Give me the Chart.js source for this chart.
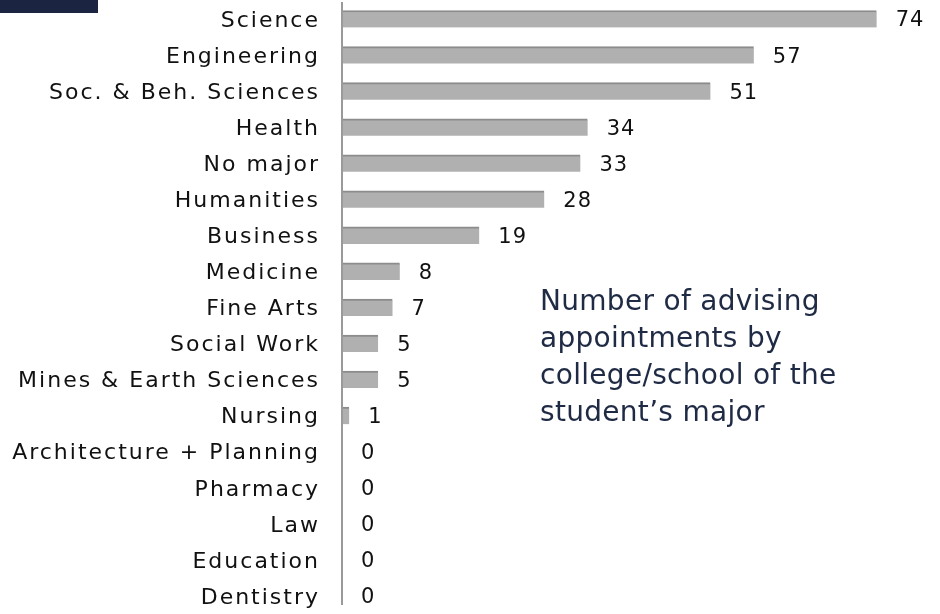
<!DOCTYPE html>
<html>
<head>
<meta charset="utf-8">
<script src="https://cdn.jsdelivr.net/npm/chart.js@4/dist/chart.umd.min.js"></script>
<style>
  html, body { margin: 0; padding: 0; background: #ffffff; }
  #wrap { position: relative; width: 940px; height: 614px; overflow: hidden; }
  #c { position: absolute; left: 0; top: 0; }
  #navy { position: absolute; left: 0; top: 0; width: 98px; height: 13px; background: #1b2440; }
  #note { position: absolute; left: 540px; top: 282px; font-family: "DejaVu Sans", sans-serif; font-size: 28px; letter-spacing: 0.3px; line-height: 37px; color: #1f2a44; white-space: nowrap; }
</style>
</head>
<body>
<div id="wrap">
  <canvas id="c" width="940" height="614"></canvas>
  <div id="navy"></div>
  <div id="note">Number of advising<br>appointments by<br>college/school of the<br>student’s major</div>
</div>
<script>
const categories = ["Science", "Engineering", "Soc. & Beh. Sciences", "Health", "No major", "Humanities", "Business", "Medicine", "Fine Arts", "Social Work", "Mines & Earth Sciences", "Nursing", "Architecture + Planning", "Pharmacy", "Law", "Education", "Dentistry"];
const appointments = [74, 57, 51, 34, 33, 28, 19, 8, 7, 5, 5, 1, 0, 0, 0, 0, 0];

const FONT = "DejaVu Sans";

const spacing = {
  id: "spacing",
  beforeDraw(chart) { chart.ctx.letterSpacing = "2px"; }
};

const valueLabels = {
  id: "valueLabels",
  afterDatasetsDraw(chart) {
    const ctx = chart.ctx;
    const meta = chart.getDatasetMeta(0);
    ctx.save();
    ctx.letterSpacing = "1px";
    ctx.font = "21px '" + FONT + "'";
    ctx.fillStyle = "#111111";
    ctx.textAlign = "left";
    ctx.textBaseline = "middle";
    meta.data.forEach((bar, i) => {
      ctx.fillText(String(appointments[i]), bar.x + 19, bar.y + 2);
    });
    ctx.restore();
  }
};

const axisLine = {
  id: "axisLine",
  afterDatasetsDraw(chart) {
    const ctx = chart.ctx;
    const a = chart.chartArea;
    ctx.save();
    ctx.strokeStyle = "#9a9a9a";
    ctx.lineWidth = 2;
    ctx.beginPath();
    ctx.moveTo(a.left, a.top + 1);
    ctx.lineTo(a.left, a.bottom - 9);
    ctx.stroke();
    ctx.restore();
  }
};

new Chart(document.getElementById("c"), {
  type: "bar",
  data: {
    labels: categories,
    datasets: [{
      data: appointments,
      backgroundColor: "#b0b0b0",
      borderColor: "#8c8c8c",
      borderWidth: { top: 2, right: 0, bottom: 0, left: 0 },
      borderSkipped: false,
      barThickness: 17
    }]
  },
  options: {
    indexAxis: "y",
    responsive: false,
    animation: false,
    layout: { padding: { left: 0, right: 20, top: 1, bottom: 0 } },
    plugins: { legend: { display: false }, tooltip: { enabled: false }, title: { display: false } },
    scales: {
      x: {
        min: 0, max: 80,
        display: false,
        grid: { display: false }
      },
      y: {
        grid: { display: false, drawTicks: false },
        border: { display: false },
        afterFit(scale) { scale.width = 342; scale.paddingTop = 0; scale.paddingBottom = 0; },
        ticks: {
          padding: 22,
          labelOffset: 2,
          color: "#111111",
          font: { family: FONT, size: 22 }
        }
      }
    }
  },
  plugins: [spacing, valueLabels, axisLine]
});
</script>
</body>
</html>
